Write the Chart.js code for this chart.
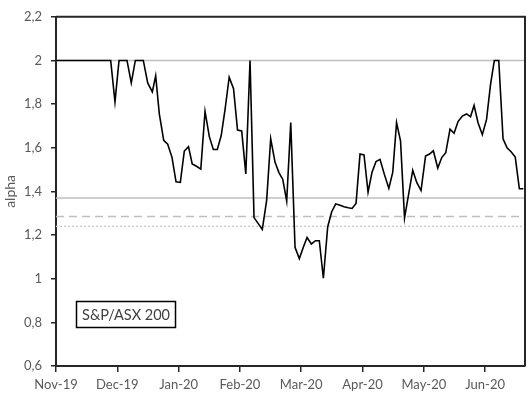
<!DOCTYPE html>
<html>
<head>
<meta charset="utf-8">
<script src="https://cdn.jsdelivr.net/npm/chart.js@4"></script>
<style>
  html, body { margin: 0; padding: 0; background: #fff; }
  #wrap { position: relative; width: 530px; height: 396px; }
</style>
</head>
<body>
<div id="wrap"><canvas id="alphaChart" width="530" height="396"></canvas></div>
<script>
// month labels on the x axis (one tick per month, equally spaced)
var monthLabels = ['Nov-19', 'Dec-19', 'Jan-20', 'Feb-20', 'Mar-20', 'Apr-20', 'May-20', 'Jun-20'];
var xMax = 7.65;

// position of each observation, in months from 1 Nov 2019
var monthPos = [
    0, 0.892, 0.962, 1.028, 1.158, 1.228, 1.294, 1.424, 1.496, 1.571,
    1.626, 1.685, 1.757, 1.822, 1.892, 1.958, 2.028, 2.093, 2.161, 2.222,
    2.292, 2.362, 2.431, 2.501, 2.566, 2.631, 2.695, 2.760, 2.825, 2.896,
    2.961, 3.029, 3.096, 3.165, 3.230, 3.365, 3.436, 3.502, 3.573, 3.638,
    3.698, 3.763, 3.829, 3.899, 3.969, 4.034, 4.095, 4.165, 4.233, 4.295,
    4.361, 4.432, 4.497, 4.563, 4.633, 4.698, 4.768, 4.829, 4.894, 4.959,
    5.024, 5.090, 5.155, 5.220, 5.285, 5.356, 5.429, 5.493, 5.555, 5.620,
    5.685, 5.819, 5.884, 5.954, 6.028, 6.093, 6.155, 6.227, 6.292, 6.357,
    6.427, 6.493, 6.558, 6.628, 6.696, 6.762, 6.819, 6.884, 6.954, 7.023,
    7.088, 7.150, 7.222, 7.292, 7.357, 7.423, 7.491, 7.558, 7.623
];

// alpha for the S&P/ASX 200
var alpha = [
    2.000, 2.000, 1.810, 2.000, 2.000, 1.897, 2.000, 2.000, 1.897, 1.856,
    1.930, 1.755, 1.634, 1.616, 1.556, 1.444, 1.441, 1.585, 1.605, 1.526,
    1.515, 1.502, 1.767, 1.651, 1.592, 1.592, 1.656, 1.780, 1.923, 1.871,
    1.681, 1.677, 1.480, 2.000, 1.280, 1.226, 1.359, 1.641, 1.533, 1.485,
    1.456, 1.356, 1.715, 1.144, 1.092, 1.144, 1.189, 1.159, 1.174, 1.174,
    1.002, 1.238, 1.307, 1.343, 1.337, 1.330, 1.325, 1.322, 1.345, 1.571,
    1.567, 1.396, 1.488, 1.537, 1.547, 1.478, 1.414, 1.488, 1.715, 1.630,
    1.278, 1.497, 1.441, 1.404, 1.562, 1.571, 1.586, 1.507, 1.555, 1.577,
    1.685, 1.666, 1.720, 1.745, 1.755, 1.742, 1.794, 1.715, 1.660, 1.730,
    1.890, 2.000, 2.000, 1.641, 1.600, 1.582, 1.557, 1.412, 1.412
];

// horizontal reference levels
var upperLevel = 2.0;
var solidLevel = 1.37;
var dashedLevel = 1.285;
var dottedLevel = 1.24;

var yTicks = [0.6, 0.8, 1.0, 1.2, 1.4, 1.6, 1.8, 2.0, 2.2];
var seriesName = 'S&P/ASX 200';

var axisColor = '#262626';
var textColor = '#595959';
var refColor = '#bfbfbf';
var fontFamily = 'Lato, Calibri, "Liberation Sans", sans-serif';

function flatLine(level) {
    return [{ x: 0, y: level }, { x: xMax, y: level }];
}

// frame around the plot area + the series label box
var framePlugin = {
    id: 'frame',
    afterDraw: function (chart) {
        var ctx = chart.ctx;
        var a = chart.chartArea;
        ctx.save();
        ctx.strokeStyle = axisColor;
        ctx.lineWidth = 2;
        ctx.beginPath();
        ctx.moveTo(a.left, a.top);
        ctx.lineTo(a.right, a.top);
        ctx.lineTo(a.right, a.bottom);
        ctx.stroke();

        var bx = 76.5, by = 301.5, bw = 99, bh = 26;
        ctx.fillStyle = '#fff';
        ctx.fillRect(bx, by, bw, bh);
        ctx.strokeStyle = '#000';
        ctx.lineWidth = 1.5;
        ctx.strokeRect(bx, by, bw, bh);
        ctx.fillStyle = '#404040';
        ctx.font = '14.5px ' + fontFamily;
        ctx.textAlign = 'center';
        ctx.textBaseline = 'middle';
        ctx.fillText(seriesName, bx + bw / 2, by + bh / 2 + 1);
        ctx.restore();
    }
};

document.addEventListener('DOMContentLoaded', function () {
    var canvas = document.querySelector('#alphaChart');
    var points = monthPos.map(function (m, i) { return { x: m, y: alpha[i] }; });

    new Chart(canvas, {
        type: 'line',
        data: {
            datasets: [{
                label: seriesName,
                data: points,
                borderColor: '#000',
                borderWidth: 1.6,
                pointRadius: 0,
                tension: 0,
                order: 0
            }, {
                label: 'upper',
                data: flatLine(upperLevel),
                borderColor: refColor,
                borderWidth: 1.5,
                pointRadius: 0,
                order: 1
            }, {
                label: 'solid',
                data: flatLine(solidLevel),
                borderColor: refColor,
                borderWidth: 1.5,
                pointRadius: 0,
                order: 1
            }, {
                label: 'dashed',
                data: flatLine(dashedLevel),
                borderColor: refColor,
                borderWidth: 1.5,
                borderDash: [8, 5],
                pointRadius: 0,
                order: 1
            }, {
                label: 'dotted',
                data: flatLine(dottedLevel),
                borderColor: '#cccccc',
                borderWidth: 1.5,
                borderDash: [2, 2],
                pointRadius: 0,
                order: 1
            }]
        },
        options: {
            responsive: false,
            animation: false,
            layout: { padding: { top: 6, right: 5, left: 0, bottom: 0 } },
            plugins: {
                legend: { display: false },
                tooltip: { enabled: false }
            },
            scales: {
                x: {
                    type: 'linear',
                    min: 0,
                    max: xMax,
                    afterBuildTicks: function (scale) {
                        scale.ticks = monthLabels.map(function (_, i) { return { value: i }; });
                    },
                    afterFit: function (scale) { scale.height = 30; },
                    ticks: {
                        autoSkip: false,
                        maxRotation: 0,
                        padding: 5,
                        color: textColor,
                        font: { family: fontFamily, size: 13 },
                        callback: function (v) { return monthLabels[v]; }
                    },
                    grid: { drawOnChartArea: false, drawTicks: true, tickLength: 6, color: axisColor, lineWidth: 1.5 },
                    border: { color: axisColor, width: 2 }
                },
                y: {
                    min: 0.6,
                    max: 2.2,
                    afterBuildTicks: function (scale) {
                        scale.ticks = yTicks.map(function (v) { return { value: v }; });
                    },
                    afterFit: function (scale) { scale.width = 56; },
                    ticks: {
                        padding: 9,
                        color: textColor,
                        font: { family: fontFamily, size: 13 },
                        callback: function (v) {
                            return (Math.round(v * 10) / 10).toString().replace('.', ',');
                        }
                    },
                    grid: { drawOnChartArea: false, drawTicks: true, tickLength: 5, color: axisColor, lineWidth: 1.5 },
                    border: { color: axisColor, width: 2 },
                    title: {
                        display: true,
                        text: 'alpha',
                        color: textColor,
                        font: { family: fontFamily, size: 14 },
                        padding: { top: 2, bottom: 0 }
                    }
                }
            }
        },
        plugins: [framePlugin]
    });
});
</script>
</body>
</html>
